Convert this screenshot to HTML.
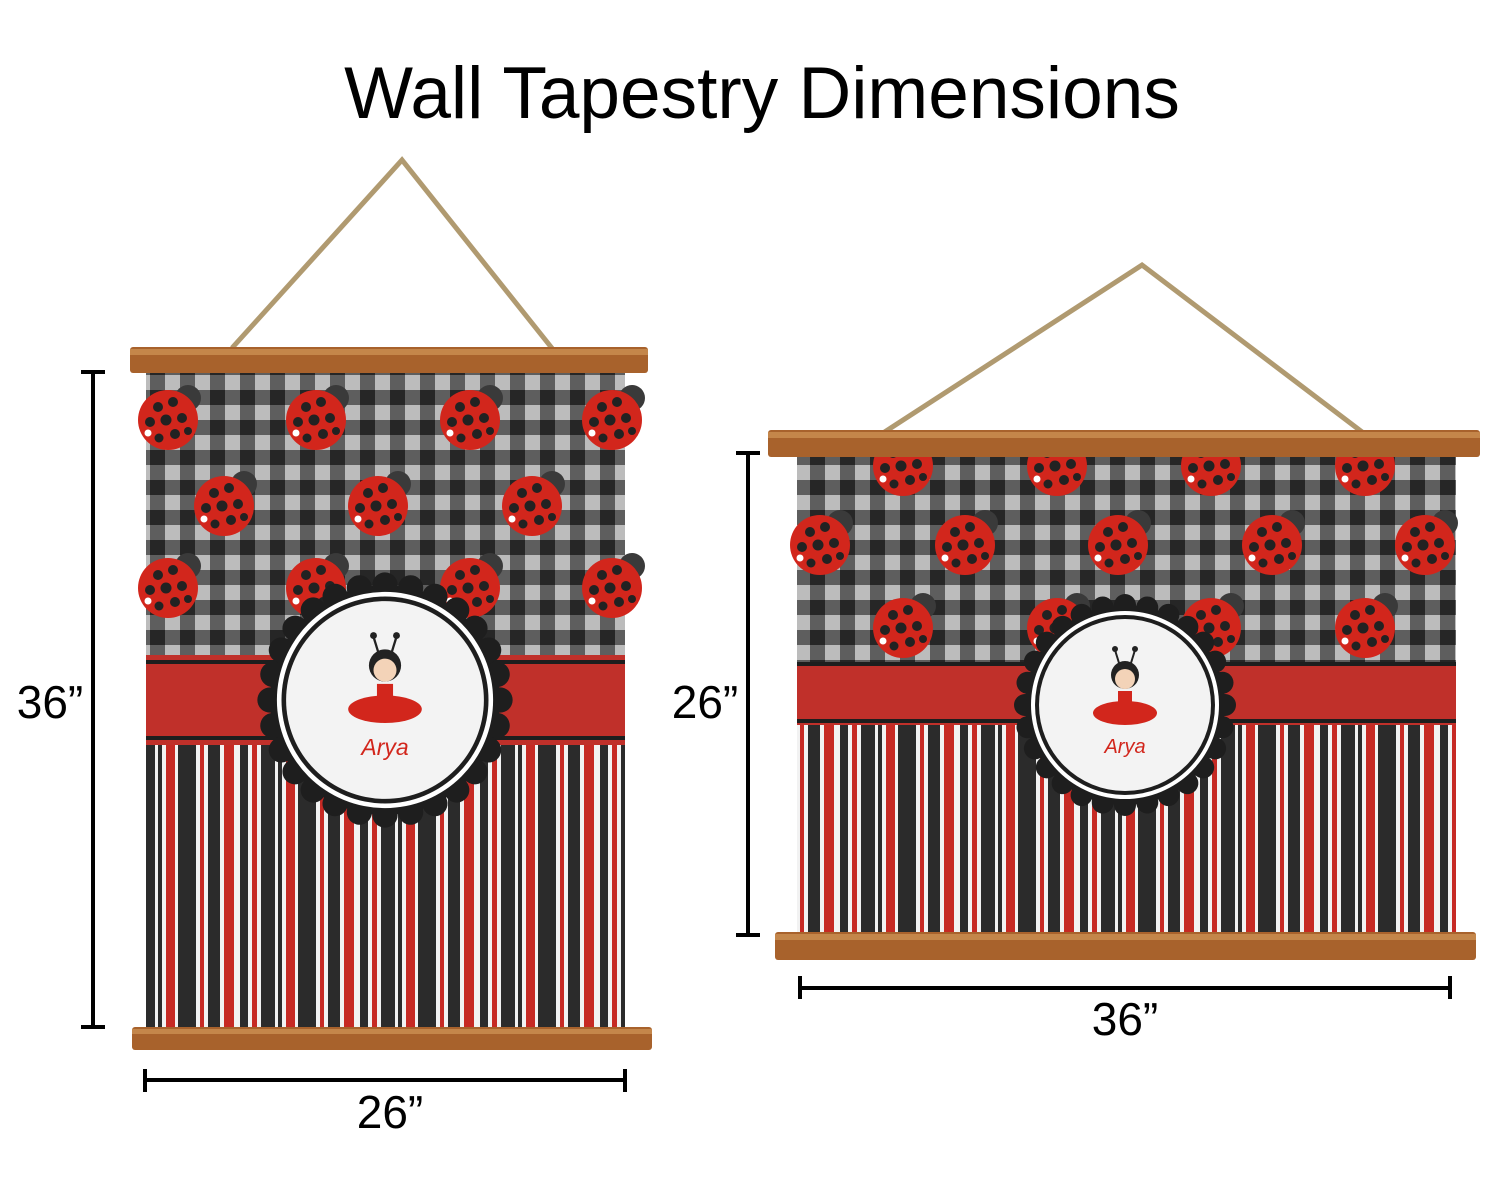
<!DOCTYPE html>
<html><head><meta charset="utf-8"><style>
html,body{margin:0;padding:0;background:#fff;}
svg{display:block}
text{font-family:"Liberation Sans",sans-serif;fill:#000}
</style></head><body>
<svg width="1500" height="1180" viewBox="0 0 1500 1180" xmlns="http://www.w3.org/2000/svg">
<defs>
<pattern id="ging" width="30" height="30" patternUnits="userSpaceOnUse">
<rect width="30" height="30" fill="#bcbcbc"/>
<rect x="0" y="0" width="15" height="30" fill="#5e5e5e"/>
<rect x="0" y="0" width="30" height="15" fill="#5e5e5e"/>
<rect x="0" y="0" width="15" height="15" fill="#262626"/>
</pattern>
<pattern id="str" width="120" height="10" patternUnits="userSpaceOnUse">
<rect width="120" height="10" fill="#f2f2f2"/>
<rect x="0" width="8" height="10" fill="#2b2b2b"/>
<rect x="12" width="5" height="10" fill="#c62a24"/>
<rect x="21" width="14" height="10" fill="#2b2b2b"/>
<rect x="38" width="4" height="10" fill="#2b2b2b"/>
<rect x="46" width="9" height="10" fill="#c62a24"/>
<rect x="58" width="18" height="10" fill="#2b2b2b"/>
<rect x="80" width="4" height="10" fill="#c62a24"/>
<rect x="88" width="12" height="10" fill="#2b2b2b"/>
<rect x="104" width="10" height="10" fill="#c62a24"/>
</pattern>
<g id="bug">
<circle cx="20" cy="-22" r="13" fill="#3a3a3a"/>
<circle cx="0" cy="0" r="30" fill="#d2261c"/>
<circle cx="-10" cy="-13" r="5" fill="#222"/><circle cx="5" cy="-18" r="5" fill="#222"/>
<circle cx="-18" cy="2" r="5" fill="#222"/><circle cx="-2" cy="0" r="5.5" fill="#222"/>
<circle cx="14" cy="-2" r="5" fill="#222"/><circle cx="7" cy="14" r="5" fill="#222"/>
<circle cx="-9" cy="18" r="4.5" fill="#222"/><circle cx="20" cy="11" r="4" fill="#222"/>
<circle cx="-20" cy="13" r="3.5" fill="#fff"/>
</g>
<g id="bump"><circle cx="100" cy="0" r="11"/></g>
<g id="med">
<circle r="100" fill="#1e1e1e"/>
<g fill="#1e1e1e">
<use href="#bump"/><use href="#bump" transform="rotate(12.86)"/><use href="#bump" transform="rotate(25.71)"/><use href="#bump" transform="rotate(38.57)"/><use href="#bump" transform="rotate(51.43)"/><use href="#bump" transform="rotate(64.29)"/><use href="#bump" transform="rotate(77.14)"/><use href="#bump" transform="rotate(90)"/><use href="#bump" transform="rotate(102.86)"/><use href="#bump" transform="rotate(115.71)"/><use href="#bump" transform="rotate(128.57)"/><use href="#bump" transform="rotate(141.43)"/><use href="#bump" transform="rotate(154.29)"/><use href="#bump" transform="rotate(167.14)"/><use href="#bump" transform="rotate(180)"/><use href="#bump" transform="rotate(192.86)"/><use href="#bump" transform="rotate(205.71)"/><use href="#bump" transform="rotate(218.57)"/><use href="#bump" transform="rotate(231.43)"/><use href="#bump" transform="rotate(244.29)"/><use href="#bump" transform="rotate(257.14)"/><use href="#bump" transform="rotate(270)"/><use href="#bump" transform="rotate(282.86)"/><use href="#bump" transform="rotate(295.71)"/><use href="#bump" transform="rotate(308.57)"/><use href="#bump" transform="rotate(321.43)"/><use href="#bump" transform="rotate(334.29)"/><use href="#bump" transform="rotate(347.14)"/>
</g>
<circle r="94" fill="#fff"/>
<circle r="90" fill="#1e1e1e"/>
<circle r="86" fill="#f3f3f3"/>
<circle cx="0" cy="-30" r="14" fill="#222"/>
<circle cx="0" cy="-26" r="10" fill="#f3d3b8"/>
<line x1="-6" y1="-42" x2="-10" y2="-55" stroke="#222" stroke-width="2"/><line x1="6" y1="-42" x2="10" y2="-55" stroke="#222" stroke-width="2"/>
<circle cx="-10" cy="-56" r="3" fill="#222"/><circle cx="10" cy="-56" r="3" fill="#222"/>
<rect x="-7" y="-14" width="14" height="14" fill="#d2261c"/>
<ellipse cx="0" cy="8" rx="32" ry="12" fill="#d2261c"/>
<text x="0" y="48" text-anchor="middle" font-family="Liberation Serif,serif" font-style="italic" font-size="20" style="fill:#d2261c">Arya</text>
</g>
</defs>

<text x="762" y="118" text-anchor="middle" font-size="73">Wall Tapestry Dimensions</text>

<!-- LEFT -->
<polyline points="232,348 402,160 555,352" fill="none" stroke="#b09a70" stroke-width="5"/>
<rect x="146" y="372" width="479" height="283" fill="url(#ging)"/>
<use href="#bug" x="168" y="420"/><use href="#bug" x="316" y="420"/><use href="#bug" x="470" y="420"/><use href="#bug" x="612" y="420"/>
<use href="#bug" x="224" y="506"/><use href="#bug" x="378" y="506"/><use href="#bug" x="532" y="506"/>
<use href="#bug" x="168" y="588"/><use href="#bug" x="316" y="588"/><use href="#bug" x="470" y="588"/><use href="#bug" x="612" y="588"/>
<rect x="146" y="655" width="479" height="90" fill="#c0302a"/>
<rect x="146" y="660" width="479" height="4" fill="#1e1e1e"/>
<rect x="146" y="736" width="479" height="4" fill="#1e1e1e"/>
<rect x="146" y="745" width="479" height="285" fill="url(#str)"/>
<rect x="130" y="347" width="518" height="26" rx="3" fill="#a8622c"/>
<rect x="130" y="349" width="518" height="6" fill="#c4864a"/>
<rect x="132" y="1027" width="520" height="23" rx="3" fill="#a8622c"/>
<rect x="132" y="1029" width="520" height="5" fill="#c4864a"/>
<use href="#med" transform="translate(385,700) scale(1.15)"/>
<g stroke="#000" stroke-width="4">
<line x1="93" y1="372" x2="93" y2="1027"/><line x1="81" y1="372" x2="105" y2="372"/><line x1="81" y1="1027" x2="105" y2="1027"/>
<line x1="145" y1="1080" x2="625" y2="1080"/><line x1="145" y1="1069" x2="145" y2="1092"/><line x1="625" y1="1069" x2="625" y2="1092"/>
</g>
<text x="50" y="718" text-anchor="middle" font-size="46">36”</text>
<text x="390" y="1128" text-anchor="middle" font-size="46">26”</text>

<!-- RIGHT -->
<polyline points="880,435 1142,265 1370,438" fill="none" stroke="#b09a70" stroke-width="5"/>
<rect x="797" y="455" width="659" height="207" fill="url(#ging)"/>
<use href="#bug" x="903" y="466"/><use href="#bug" x="1057" y="466"/><use href="#bug" x="1211" y="466"/><use href="#bug" x="1365" y="466"/>
<use href="#bug" x="820" y="545"/><use href="#bug" x="965" y="545"/><use href="#bug" x="1118" y="545"/><use href="#bug" x="1272" y="545"/><use href="#bug" x="1425" y="545"/>
<use href="#bug" x="903" y="628"/><use href="#bug" x="1057" y="628"/><use href="#bug" x="1211" y="628"/><use href="#bug" x="1365" y="628"/>
<rect x="797" y="662" width="659" height="63" fill="#c0302a"/>
<rect x="797" y="662" width="659" height="4" fill="#1e1e1e"/>
<rect x="797" y="719" width="659" height="4" fill="#1e1e1e"/>
<rect x="797" y="725" width="659" height="210" fill="url(#str)"/>
<rect x="768" y="430" width="712" height="27" rx="3" fill="#a8622c"/>
<rect x="768" y="432" width="712" height="6" fill="#c4864a"/>
<rect x="775" y="932" width="701" height="28" rx="3" fill="#a8622c"/>
<rect x="775" y="934" width="701" height="6" fill="#c4864a"/>
<use href="#med" transform="translate(1125,705) scale(1.0)"/>
<g stroke="#000" stroke-width="4">
<line x1="748" y1="453" x2="748" y2="935"/><line x1="736" y1="453" x2="760" y2="453"/><line x1="736" y1="935" x2="760" y2="935"/>
<line x1="800" y1="988" x2="1450" y2="988"/><line x1="800" y1="976" x2="800" y2="999"/><line x1="1450" y1="976" x2="1450" y2="999"/>
</g>
<text x="705" y="718" text-anchor="middle" font-size="46">26”</text>
<text x="1125" y="1035" text-anchor="middle" font-size="46">36”</text>
</svg>
</body></html>
